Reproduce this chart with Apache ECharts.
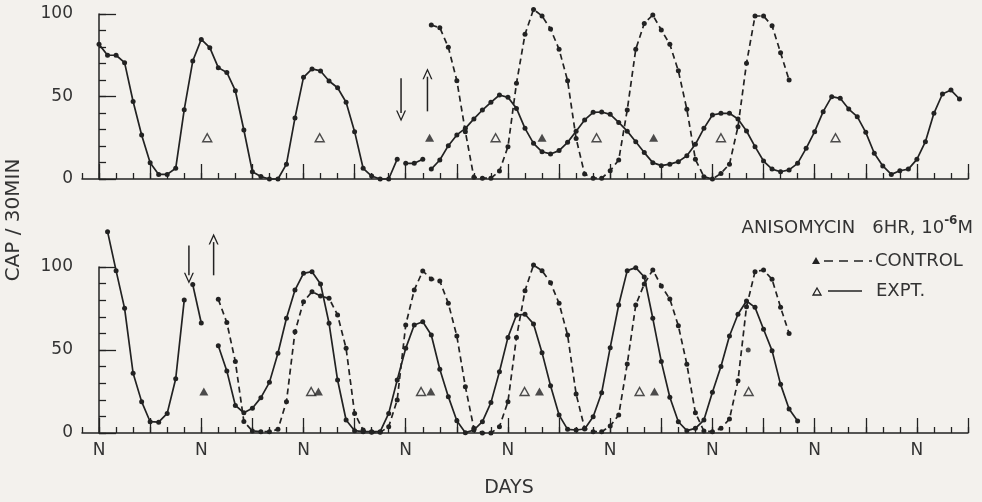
<!DOCTYPE html>
<html style="height: 100%">
<head>
<meta charset="utf-8">
<title>Anisomycin 6 hr pulse</title>
</head>
<body style="height: 100%; margin: 0; background: #f3f1ed">
<div id="container" style="width: 982px; height: 502px"></div>
<script src="https://cdn.jsdelivr.net/npm/echarts@6/dist/echarts.min.js"></script>
<script>
// hours after the first noon (N); samples every 2 hr
var xMin = -4, xMax = 204;
var noonHours = [0, 24, 48, 72, 96, 120, 144, 168, 192];
var halfDayHours = [0, 12, 24, 36, 48, 60, 72, 84, 96, 108, 120, 132, 144, 156, 168, 180, 192, 204];
var yTickLabels = [0, 50, 100];
var markerLevel = 25;

// upper panel
var topExptSegs = [
    {start: 0, values: [81.6, 75, 75, 70.5, 47, 26.7, 9.9, 2.8, 2.8, 6.5,
        42, 71.5, 84.6, 79.6, 67.5, 64.6, 53.5, 29.7, 4.4, 1.5,
        0, 0, 9, 37, 61.6, 66.7, 65.5, 59.4, 55.3, 46.5,
        28.7, 6.5, 1.8, 0, 0, 12]},
    {start: 72, values: [9.5, 9.5, 12]},
    {start: 78, values: [6, 11.5, 20.2, 26.7, 30.7, 36.4, 41.8, 46.5, 50.9, 49.5,
        42.8, 30.7, 21.6, 16.5, 15.2, 17.2, 22.2, 29, 35.8, 40.4,
        40.6, 39.2, 34.3, 29, 22.6, 16, 9.9, 8.1, 9, 10.5,
        14.1, 21, 30.7, 38.8, 39.8, 39.8, 36.4, 29.1, 19.6, 10.9,
        6, 4.4, 5.5, 9.5, 18.6, 28.7, 40.8, 49.9, 48.9, 42.4,
        37.8, 28.3, 15.6, 7.9, 2.8, 5, 6, 11.9, 22.6, 39.8,
        51.5, 53.9, 48.5]}
];
var topCtrlSegs = [
    {start: 78, values: [93.3, 91.7, 79.8, 59.6, 28.7, 1, 0.5, 0.5, 4.8, 19.6,
        58, 87.7, 102.8, 98.8, 90.9, 78.6, 59.6, 24.6, 3, 0.5,
        0.5, 5, 11.5, 41.8, 78.6, 94.3, 99.4, 90.3, 81.6, 65.6,
        42.2, 11.9, 1.4, 0, 3.4, 9, 31.7, 70.1, 98.8, 98.8,
        92.9, 76.5, 60]}
];
var topExptPhase = [25.4, 51.8, 93.1, 116.8, 146, 172.9];
var topCtrlPhase = [77.6, 104, 130.2];
var topArrows = [[70.9, 61, 40], [77.1, 41, 62]];   // hour, from, to

// lower panel
var botExptSegs = [
    {start: 2, values: [121.3, 97.8, 75.1, 36, 18.9, 6.8, 6.5, 11.8, 32.7, 80.1]},
    {start: 22, values: [89.4, 66.3]},
    {start: 28, values: [52.5, 37.4, 16.6, 12.2, 14.9, 21.3, 30.5, 48, 69.1, 86.1,
        96.2, 97.2, 89.8, 66.1, 31.9, 7.8, 1.4, 0.8, 0.8, 0.8,
        11.8, 31.9, 51, 65.1, 67, 59, 38.4, 21.9, 7.4, 0.2,
        1.8, 6.8, 18.3, 36.9, 57.6, 71.1, 71.5, 65.7, 48.4, 28.5,
        10.8, 2.2, 1.8, 2.4, 9.8, 24.3, 51.4, 77.1, 97.8, 99.6,
        94, 69.1, 43, 21.5, 6.8, 1.4, 2.8, 7.8, 24.5, 40,
        58.4, 71.5, 79.5, 75.7, 62.5, 49.6, 29.3, 14.5, 7.2]}
];
var botCtrlSegs = [
    {start: 28, values: [80.5, 66.5, 43, 7, 1.2, 0.8, 0.8, 2.2, 18.9, 61,
        79.1, 85.1, 82.5, 81.1, 71.1, 51, 11.8, 1.8, 0.4, 0.4,
        3.8, 19.9, 65.1, 86.1, 97.6, 92.8, 91.6, 78.1, 58.4, 27.9,
        2.8, 0, 0, 3.8, 18.9, 57.6, 85.7, 101.2, 97.8, 90.5,
        78.1, 59, 23.5, 2.8, 0.8, 0.8, 4.2, 10.8, 41.6, 77.1,
        89.8, 98.2, 88.6, 80.7, 64.6, 41.4, 12.2, 1.2, 0.8, 2.8,
        8.4, 31.5, 76, 97.2, 98.2, 92.6, 75.7, 60]}
];
var botStray = [[152.4, 50]];
var botExptPhase = [49.8, 75.6, 99.9, 126.9, 152.5];
var botCtrlPhase = [24.6, 51.5, 77.9, 103.4, 130.4];
var botArrows = [[21.1, 113, 95], [26.9, 95, 115]];

var ink = '#222';
var textInk = '#333';
var bg = '#f3f1ed';
var font = 'DejaVu Sans';
var chevron = 'path://M0,10 L5,0 L10,10 L8.6,10 L5,2.8 L1.4,10 Z';

function lineSeries(segs, g, dashed) {
    return segs.map(function (s) {
        return {
            type: 'line', xAxisIndex: g * 2, yAxisIndex: g * 2, clip: false,
            data: s.values.map(function (v, i) { return [s.start + 2 * i, v]; }),
            symbol: 'circle', symbolSize: 5,
            lineStyle: {color: ink, width: 1.7, type: dashed ? [6, 4] : 'solid'},
            itemStyle: {color: ink},
            emphasis: {disabled: true}, z: 3
        };
    });
}

function phaseSeries(hours, g, filled) {
    return {
        type: 'scatter', xAxisIndex: g * 2, yAxisIndex: g * 2,
        symbol: 'triangle', symbolSize: [9, 8],
        data: hours.map(function (h) { return [h, markerLevel]; }),
        itemStyle: filled ? {color: ink} : {color: bg, borderColor: ink, borderWidth: 1.4},
        emphasis: {disabled: true}, z: 4
    };
}

function arrowSeries(arrows, g) {
    return arrows.map(function (a) {
        var down = a[2] < a[1];
        return {
            type: 'line', xAxisIndex: g * 2, yAxisIndex: g * 2, clip: false,
            data: [
                {value: [a[0], a[1]], symbol: 'none'},
                {value: [a[0], a[2]], symbol: chevron, symbolSize: [10, 11],
                 symbolRotate: down ? 180 : 0, symbolOffset: [0, down ? 3 : -3]}
            ],
            lineStyle: {color: ink, width: 1.5},
            itemStyle: {color: ink},
            emphasis: {disabled: true}
        };
    });
}

function xAxes(g, withLabels) {
    return [
        {type: 'value', gridIndex: g, position: 'bottom', min: xMin, max: xMax, interval: 4,
         axisLine: {lineStyle: {color: ink, width: 1.5}},
         axisTick: {inside: true, length: 6, lineStyle: {color: ink, width: 1.3}},
         axisLabel: {show: false}, splitLine: {show: false}},
        {type: 'value', gridIndex: g, position: 'bottom', offset: 0, min: xMin, max: xMax,
         axisLine: {show: false},
         axisTick: {inside: true, length: 15, customValues: halfDayHours, lineStyle: {color: ink, width: 1.3}},
         axisLabel: {show: withLabels, customValues: noonHours, formatter: function () { return 'N'; },
                     color: textInk, fontSize: 17, fontFamily: font, margin: 9},
         splitLine: {show: false}}
    ];
}

function yAxes(g) {
    return [
        {type: 'value', gridIndex: g, position: 'left', min: 0, max: 100, interval: 10,
         axisLine: {show: true, lineStyle: {color: ink, width: 1.5}},
         axisTick: {show: true, inside: true, length: 7, lineStyle: {color: ink, width: 1.3}},
         axisLabel: {show: false}, splitLine: {show: false}},
        {type: 'value', gridIndex: g, position: 'left', offset: 0, min: 0, max: 100,
         axisLine: {show: false},
         axisTick: {show: true, inside: true, length: 17, customValues: yTickLabels, lineStyle: {color: ink, width: 1.3}},
         axisLabel: {customValues: yTickLabels, color: textInk, fontSize: 17, fontFamily: font, margin: 9},
         splitLine: {show: false}}
    ];
}

var dom = document.getElementById('container');
var myChart = echarts.init(dom);

var option = {
    backgroundColor: bg,
    animation: false,
    grid: [
        {left: 82, top: 14, width: 886, height: 165},
        {left: 82, top: 267, width: 886, height: 166}
    ],
    xAxis: xAxes(0, false).concat(xAxes(1, true)),
    yAxis: yAxes(0).concat(yAxes(1)),
    series: [].concat(
        lineSeries(topExptSegs, 0, false),
        lineSeries(topCtrlSegs, 0, true),
        [phaseSeries(topExptPhase, 0, false), phaseSeries(topCtrlPhase, 0, true)],
        arrowSeries(topArrows, 0),
        lineSeries(botExptSegs, 1, false),
        lineSeries(botCtrlSegs, 1, true),
        [{type: 'scatter', xAxisIndex: 2, yAxisIndex: 2, symbol: 'circle', symbolSize: 5,
          data: botStray, itemStyle: {color: ink}}],
        [phaseSeries(botExptPhase, 1, false), phaseSeries(botCtrlPhase, 1, true)],
        arrowSeries(botArrows, 1)
    ),
    graphic: [
        {type: 'text', x: 14, y: 220, rotation: Math.PI / 2,
         style: {text: 'CAP / 30MIN', fill: textInk, font: '20px "DejaVu Sans"', align: 'center', verticalAlign: 'middle'}},
        {type: 'text', x: 509, y: 488,
         style: {text: 'DAYS', fill: textInk, font: '19px "DejaVu Sans"', align: 'center', verticalAlign: 'middle'}},
        {type: 'text', x: 973, y: 226,
         style: {text: '{a|ANISOMYCIN   6HR, 10}{s|-6}{a|M}', fill: textInk, align: 'right', verticalAlign: 'middle',
                 rich: {a: {fontSize: 18, fontFamily: font, lineHeight: 22, verticalAlign: 'bottom'},
                        s: {fontSize: 12, fontFamily: font, verticalAlign: 'top', fontWeight: 'bold'}}}},
        {type: 'polygon', shape: {points: [[812, 264], [820, 264], [816, 257]]}, style: {fill: ink}},
        {type: 'line', shape: {x1: 824, y1: 261, x2: 872, y2: 261}, style: {stroke: ink, lineWidth: 1.4, lineDash: [9, 6]}},
        {type: 'text', x: 875, y: 261,
         style: {text: 'CONTROL', fill: textInk, font: '18px "DejaVu Sans"', align: 'left', verticalAlign: 'middle'}},
        {type: 'polygon', shape: {points: [[813, 295], [821, 295], [817, 288]]}, style: {fill: bg, stroke: ink, lineWidth: 1.3}},
        {type: 'line', shape: {x1: 828, y1: 291, x2: 862, y2: 291}, style: {stroke: ink, lineWidth: 1.4}},
        {type: 'text', x: 876, y: 291,
         style: {text: 'EXPT.', fill: textInk, font: '18px "DejaVu Sans"', align: 'left', verticalAlign: 'middle'}}
    ]
};

if (option && typeof option === 'object') {
    myChart.setOption(option, true);
}
</script>
</body>
</html>
